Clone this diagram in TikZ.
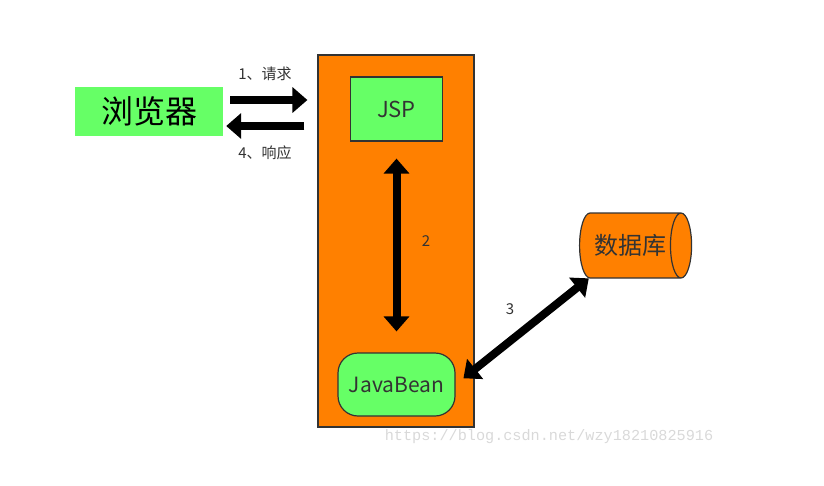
\documentclass[tikz,border=0pt]{standalone}
\usepackage{fontspec}
\setmainfont{Noto Sans CJK SC}
\newfontfamily\urlfont{Liberation Mono}
\usetikzlibrary{arrows.meta,shapes.geometric}

\definecolor{boxgreen}{HTML}{66FF66}
\definecolor{boxorange}{HTML}{FF8000}
\definecolor{edgegray}{HTML}{333333}
\newcommand*\bigtip{Triangle[length=15pt,width=25pt]}
\tikzset{block/.style 2 args={
    draw=edgegray,
    line width=1.2pt,
    fill=boxgreen,
    text=edgegray,
    inner sep=0pt,
    minimum width=#1,
    minimum height=#2,
    font=\fontsize{22}{26}\selectfont
},
bigarrow/.style={line width=8pt, draw=black},
steplabel/.style={text=edgegray, font=\fontsize{15}{18}\selectfont}}

\begin{document}
\begin{tikzpicture}[x=1pt,y=-1pt]
    \useasboundingbox (0,0) rectangle (824,485);

    % The browser and the server box.
    \node[fill=boxgreen, minimum width=148pt, minimum height=49pt, inner sep=0pt,
        font=\fontsize{32}{36}\selectfont] (browser) at (149,111.5) {浏览器};
    \node[draw=edgegray, line width=1.2pt, fill=boxorange, minimum width=156pt,
        minimum height=372pt, inner sep=0pt] (server) at (396,241) {};

    % Blocks inside the server.
    \node[block={92pt}{64pt}] (jsp) at (396.5,109) {JSP};
    \node[block={117pt}{63pt}, rounded corners=20pt,
        font=\fontsize{21}{25}\selectfont] (bean) at (396.5,384.5) {JavaBean};

    % The database.
    \node[draw=edgegray, line width=1.2pt, fill=boxorange, shape=cylinder,
        shape aspect=0.95, minimum width=65pt, minimum height=112pt, inner sep=0pt,
        text=edgegray, font=\fontsize{24}{28}\selectfont] (db) at (630,245.5) {数据库};

    % Request and response.
    \draw[bigarrow, -{\bigtip}, shorten <=7pt, shorten >=10pt]
        ([yshift=11.5pt]browser.east) -- ([yshift=11.5pt]browser.east -| server.west);
    \draw[bigarrow, -{\bigtip}, shorten <=13pt, shorten >=3pt]
        ([yshift=-14.5pt]browser.east -| server.west) -- ([yshift=-14.5pt]browser.east);
    \node[steplabel] at (265,74) {1、请求};
    \node[steplabel] at (265,153) {4、响应};

    % JSP to JavaBean.
    \draw[bigarrow, {\bigtip}-{\bigtip}, shorten <=17pt, shorten >=21pt] (jsp) -- (bean);
    \node[steplabel] at (426,241) {2};

    % JavaBean to database.
    \draw[bigarrow, {\bigtip}-{\bigtip}, shorten <=10pt] (bean.east) -- (db);
    \node[steplabel] at (510,309) {3};

    % Watermark.
    \node[text=black!15, font=\urlfont\fontsize{15.2}{18}\selectfont] at (549,437)
        {https://blog.csdn.net/wzy18210825916};

\end{tikzpicture}
\end{document}
